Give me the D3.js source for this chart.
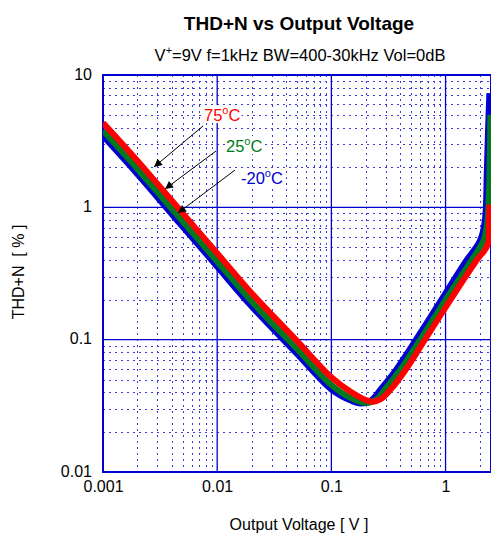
<!DOCTYPE html>
<html><head><meta charset="utf-8">
<script src="https://cdn.jsdelivr.net/npm/d3@7"></script>
<style>
body{margin:0;background:#fff}
svg{display:block}
text{font-family:"Liberation Sans",Arial,Helvetica,sans-serif}
</style>
</head><body>
<svg id="chart" width="491" height="535"></svg>
<script>
// ---- data ----
const xTickValues = [0.001, 0.01, 0.1, 1];
const xTickLabels = ["0.001", "0.01", "0.1", "1"];
const yTickValues = [0.01, 0.1, 1, 10];
const yTickLabels = ["0.01", "0.1", "1", "10"];
const xDomain = [0.001, 2.5];
const yDomain = [0.01, 10];

// Output voltage [V], THD+N [%]
const voltageMinus20 = [0.001, 0.002, 0.005, 0.01, 0.02, 0.05, 0.1, 0.15, 0.18, 0.22, 0.275, 0.367, 0.55, 1.0, 1.5, 2.0, 2.2, 2.3, 2.36, 2.42];
const thdMinus20     = [3.45, 1.78, 0.71, 0.355, 0.178, 0.078, 0.042, 0.0345, 0.033, 0.0345, 0.043, 0.059, 0.1, 0.225, 0.39, 0.56, 0.77, 1.9, 4.0, 7.3];

const voltage25 = [0.001, 0.002, 0.005, 0.01, 0.02, 0.05, 0.1, 0.15, 0.2, 0.25, 0.3, 0.4, 0.6, 1.0, 1.5, 2.0, 2.15, 2.3, 2.4, 2.47];
const thd25     = [3.8, 1.95, 0.78, 0.39, 0.195, 0.085, 0.0455, 0.036, 0.0333, 0.0355, 0.043, 0.059, 0.1, 0.2, 0.34, 0.5, 0.56, 0.72, 1.3, 5.0];

const voltage75 = [0.001, 0.002, 0.005, 0.01, 0.02, 0.05, 0.1, 0.15, 0.2, 0.23, 0.27, 0.33, 0.44, 0.66, 1.0, 1.5, 2.0, 2.15, 2.35, 2.4, 2.44];
const thd75     = [4.35, 2.25, 0.9, 0.45, 0.225, 0.098, 0.052, 0.04, 0.035, 0.034, 0.0355, 0.042, 0.058, 0.1, 0.175, 0.3, 0.43, 0.46, 0.53, 0.8, 1.05];

const seriesLabels = ["-20", "25", "75"];
const seriesColors = ["#0000d0", "#007a20", "#ff0000"];

// ---- layout ----
const plot = {left: 103, top: 75, right: 491, bottom: 472};
const svg = d3.select("#chart");

const x = d3.scaleLog().domain(xDomain).range([plot.left, plot.right]);
const y = d3.scaleLog().domain(yDomain).range([plot.bottom, plot.top]);

const gridBlue = "#0000d0";

const defs = svg.append("defs");
defs.append("clipPath").attr("id", "clip")
  .append("rect").attr("x", plot.left).attr("y", plot.top)
  .attr("width", plot.right - plot.left).attr("height", plot.bottom - plot.top);

// minor grid
const xMinor = [], yMinor = [];
[0.001, 0.01, 0.1, 1].forEach(d => { for (let k = 2; k <= 9; k++) { const v = d * k; if (v < xDomain[1]) xMinor.push(v); } });
[0.01, 0.1, 1].forEach(d => { for (let k = 2; k <= 9; k++) yMinor.push(d * k); });

const grid = svg.append("g");
grid.selectAll(".xm").data(xMinor).join("line")
  .attr("x1", d => Math.round(x(d)) + 0.5).attr("x2", d => Math.round(x(d)) + 0.5)
  .attr("y1", plot.top).attr("y2", plot.bottom)
  .attr("stroke", "#3a3ae0").attr("stroke-width", 1).attr("stroke-dasharray", "2,4");
grid.selectAll(".ym").data(yMinor).join("line")
  .attr("y1", d => Math.round(y(d)) + 0.5).attr("y2", d => Math.round(y(d)) + 0.5)
  .attr("x1", plot.left).attr("x2", plot.right)
  .attr("stroke", "#3a3ae0").attr("stroke-width", 1).attr("stroke-dasharray", "2,4");

// major grid
grid.selectAll(".xM").data(xTickValues.slice(1)).join("line")
  .attr("x1", d => x(d)).attr("x2", d => x(d))
  .attr("y1", plot.top).attr("y2", plot.bottom)
  .attr("stroke", gridBlue).attr("stroke-width", 1.3);
grid.selectAll(".yM").data(yTickValues.slice(1, -1)).join("line")
  .attr("y1", d => y(d)).attr("y2", d => y(d))
  .attr("x1", plot.left).attr("x2", plot.right)
  .attr("stroke", gridBlue).attr("stroke-width", 1.3);

// frame
svg.append("rect").attr("x", plot.left).attr("y", plot.top)
  .attr("width", plot.right - plot.left).attr("height", plot.bottom - plot.top)
  .attr("fill", "none").attr("stroke", gridBlue).attr("stroke-width", 2);

// axes labels
const xAxis = d3.axisBottom(x).tickValues(xTickValues)
  .tickFormat((d, i) => xTickLabels[i]).tickSize(0).tickPadding(9);
const gx = svg.append("g").attr("transform", `translate(0,${plot.bottom})`).call(xAxis);
gx.select(".domain").remove();
gx.selectAll("text").attr("font-size", 16).attr("fill", "#000")
  .style("font-family", '"Liberation Sans",Arial,sans-serif');

const yAxis = d3.axisLeft(y).tickValues(yTickValues)
  .tickFormat((d, i) => yTickLabels[i]).tickSize(0).tickPadding(11);
const gy = svg.append("g").attr("transform", `translate(${plot.left},0)`).call(yAxis);
gy.select(".domain").remove();
gy.selectAll("text").attr("font-size", 16).attr("fill", "#000").attr("dy", "0.25em")
  .style("font-family", '"Liberation Sans",Arial,sans-serif');

// series
const line = d3.line().x(d => x(d[0])).y(d => y(d[1])).curve(d3.curveCatmullRom.alpha(0.5));
const seriesData = [
  d3.zip(voltageMinus20, thdMinus20),
  d3.zip(voltage25, thd25),
  d3.zip(voltage75, thd75)
];
const lines = svg.append("g").attr("clip-path", "url(#clip)");
seriesData.forEach((s, i) => {
  lines.append("path").datum(s).attr("d", line)
    .attr("fill", "none").attr("stroke", seriesColors[i])
    .attr("stroke-width", 6).attr("stroke-linejoin", "round").attr("stroke-linecap", "butt");
});

// titles
svg.append("text").attr("x", 299).attr("y", 30).attr("text-anchor", "middle")
  .attr("font-size", 19).attr("font-weight", "bold").text("THD+N vs Output Voltage");
const sub = svg.append("text").attr("x", 300).attr("y", 61).attr("text-anchor", "middle")
  .attr("font-size", 16.5);
sub.append("tspan").text("V");
sub.append("tspan").attr("font-size", 11).attr("dy", -7).text("+");
sub.append("tspan").attr("dy", 7).text("=9V f=1kHz BW=400-30kHz Vol=0dB");

svg.append("text").attr("x", 299).attr("y", 530).attr("text-anchor", "middle")
  .attr("font-size", 16).text("Output Voltage [ V ]");
svg.append("text").attr("transform", "translate(24,272) rotate(-90)").attr("text-anchor", "middle")
  .attr("font-size", 16).style("white-space", "pre").text("THD+N  [ % ]");

// annotations
defs.append("marker").attr("id", "arr").attr("viewBox", "0 0 10 10")
  .attr("refX", 10).attr("refY", 5).attr("markerWidth", 10).attr("markerHeight", 8)
  .attr("markerUnits", "userSpaceOnUse").attr("orient", "auto")
  .append("path").attr("d", "M0,0 L10,5 L0,10 Z").attr("fill", "#000");

const annots = [
  {label: seriesLabels[2], color: seriesColors[2], tx: 204, ty: 121, x1: 203, y1: 126, x2: 154, y2: 167},
  {label: seriesLabels[1], color: seriesColors[1], tx: 226, ty: 152, x1: 216, y1: 151, x2: 165, y2: 189},
  {label: seriesLabels[0], color: seriesColors[0], tx: 241, ty: 184, x1: 235, y1: 170, x2: 178, y2: 213}
];
annots.forEach(a => {
  const t = svg.append("text").attr("x", a.tx).attr("y", a.ty).attr("font-size", 16.5).attr("fill", a.color);
  t.append("tspan").text(a.label);
  t.append("tspan").attr("font-size", 11).attr("dy", -7).text("o");
  t.append("tspan").attr("dy", 7).text("C");
  const bb = t.node().getBBox();
  svg.insert("rect", () => t.node()).attr("x", bb.x - 1).attr("y", bb.y + 1)
    .attr("width", bb.width + 2).attr("height", bb.height - 2).attr("fill", "#fff");
  svg.append("line").attr("x1", a.x1).attr("y1", a.y1).attr("x2", a.x2).attr("y2", a.y2)
    .attr("stroke", "#000").attr("stroke-width", 1).attr("marker-end", "url(#arr)");
});
</script>
</body></html>
